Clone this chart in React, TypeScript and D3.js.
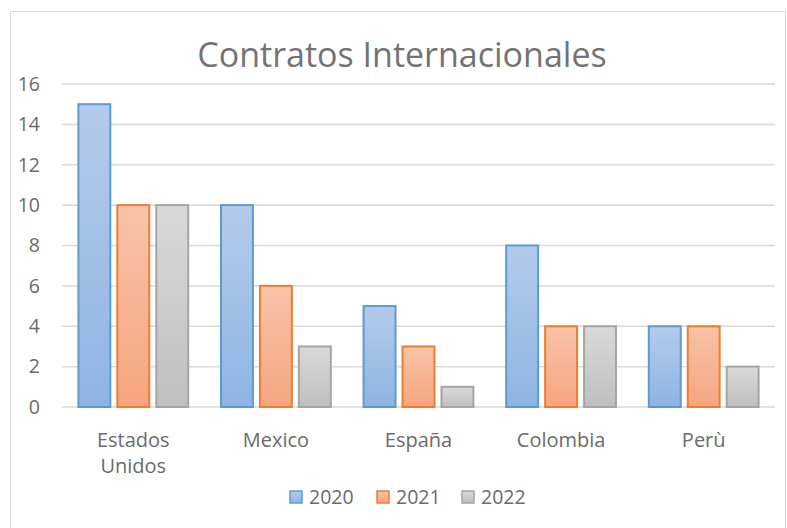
import { useEffect, useRef } from "react";
import * as d3 from "d3";

const categories = ["Estados Unidos", "Mexico", "España", "Colombia", "Perù"];
const years = ["2020", "2021", "2022"];
const values2020 = [15, 10, 5, 8, 4];
const values2021 = [10, 6, 3, 4, 4];
const values2022 = [10, 3, 1, 4, 2];
const yTicks = [0, 2, 4, 6, 8, 10, 12, 14, 16];

const seriesStyle = [
  { top: "#b3cbea", bottom: "#8fb4e3", stroke: "#5b9bd5" },
  { top: "#f8c3a8", bottom: "#f5a57f", stroke: "#ed7d31" },
  { top: "#d9d9d9", bottom: "#bfbfbf", stroke: "#a5a5a5" },
];

const FONT = "'Open Sans', sans-serif";
const TEXT = "#6b6b6b";

export default function App() {
  const ref = useRef<SVGSVGElement>(null);

  useEffect(() => {
    if (!ref.current) return;
    const svg = d3.select(ref.current);
    svg.selectAll("*").remove();

    const width = 787;
    const height = 528;
    const margin = { top: 84, right: 12, bottom: 121, left: 62 };
    const series = [values2020, values2021, values2022];

    const defs = svg.append("defs");
    seriesStyle.forEach((s, i) => {
      const g = defs
        .append("linearGradient")
        .attr("id", `grad${i}`)
        .attr("x1", 0)
        .attr("y1", 0)
        .attr("x2", 0)
        .attr("y2", 1);
      g.append("stop").attr("offset", "0%").attr("stop-color", s.top);
      g.append("stop").attr("offset", "100%").attr("stop-color", s.bottom);
    });

    svg
      .append("rect")
      .attr("x", 10.5)
      .attr("y", 11.5)
      .attr("width", 775)
      .attr("height", 530)
      .attr("fill", "#fff")
      .attr("stroke", "#d9d9d9");

    const x0 = d3
      .scaleBand()
      .domain(categories)
      .range([margin.left, width - margin.right])
      .paddingInner(0.23)
      .paddingOuter(0.115);
    const x1 = d3
      .scaleBand()
      .domain(years)
      .range([0, x0.bandwidth()])
      .paddingInner(0.18)
      .paddingOuter(0);
    const y = d3
      .scaleLinear()
      .domain([0, 16])
      .range([height - margin.bottom, margin.top]);

    svg
      .append("g")
      .selectAll("line")
      .data(yTicks)
      .join("line")
      .attr("x1", margin.left)
      .attr("x2", width - margin.right)
      .attr("y1", (d) => y(d))
      .attr("y2", (d) => y(d))
      .attr("stroke", "#d9d9d9")
      .attr("stroke-width", 1.5);

    svg
      .append("g")
      .selectAll("text")
      .data(yTicks)
      .join("text")
      .attr("x", 40)
      .attr("y", (d) => y(d))
      .attr("dy", "0.35em")
      .attr("text-anchor", "end")
      .attr("font-family", FONT)
      .attr("font-size", 19.5)
      .attr("fill", TEXT)
      .text((d) => d);

    categories.forEach((c, ci) => {
      const g = svg.append("g").attr("transform", `translate(${x0(c)},0)`);
      series.forEach((vals, si) => {
        g.append("rect")
          .attr("x", x1(years[si])!)
          .attr("y", y(vals[ci]))
          .attr("width", x1.bandwidth())
          .attr("height", y(0) - y(vals[ci]))
          .attr("fill", `url(#grad${si})`)
          .attr("stroke", seriesStyle[si].stroke)
          .attr("stroke-width", 2);
      });
      const words = c.split(" ");
      const t = svg
        .append("text")
        .attr("x", x0(c)! + x0.bandwidth() / 2)
        .attr("y", 447)
        .attr("text-anchor", "middle")
        .attr("font-family", FONT)
        .attr("font-size", 20)
        .attr("fill", TEXT);
      words.forEach((w, wi) => {
        t.append("tspan")
          .attr("x", x0(c)! + x0.bandwidth() / 2)
          .attr("dy", wi === 0 ? 0 : 26)
          .text(w);
      });
    });

    svg
      .append("text")
      .attr("x", 402)
      .attr("y", 67)
      .attr("text-anchor", "middle")
      .attr("font-family", FONT)
      .attr("font-size", 34)
      .attr("fill", "#737373")
      .text("Contratos Internacionales");

    const legendX = [290, 377, 462];
    years.forEach((yr, i) => {
      svg
        .append("rect")
        .attr("x", legendX[i])
        .attr("y", 491)
        .attr("width", 12)
        .attr("height", 12)
        .attr("fill", `url(#grad${i})`)
        .attr("stroke", seriesStyle[i].stroke)
        .attr("stroke-width", 1.5);
      svg
        .append("text")
        .attr("x", legendX[i] + 19)
        .attr("y", 497)
        .attr("dy", "0.35em")
        .attr("font-family", FONT)
        .attr("font-size", 19.5)
        .attr("fill", TEXT)
        .text(yr);
    });
  }, []);

  return <svg ref={ref} width={787} height={528} style={{ display: "block", position: "absolute", left: 0, top: 0 }} />;
}
